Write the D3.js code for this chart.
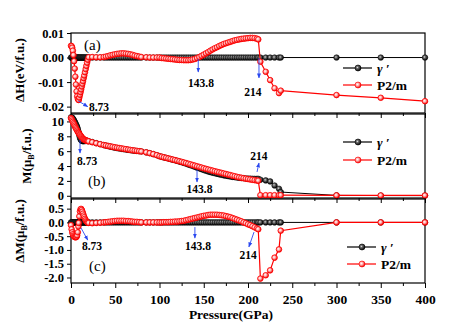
<!DOCTYPE html>
<html><head><meta charset="utf-8">
<script src="https://cdn.jsdelivr.net/npm/d3@7"></script>
<style>body{margin:0;background:#fff}svg{display:block}</style>
</head><body><svg id="c" width="472" height="334"></svg>
<script>
// ---------------- DATA ----------------
const pressure = [
  0, 0.7, 1.4, 2.1, 2.8, 3.5, 4.2, 4.9, 5.6, 6.3, 7, 7.7, 8.4, 8.73, 9.4, 10.1, 10.8, 11.5, 12.2, 12.9, 13.6, 14.3, 15, 15.8, 16.6, 17.4, 18.2, 19, 20,
  24, 28.5, 33,
  37, 39.5, 42, 44.5, 47, 49.5, 52, 54.5, 57, 59.5, 62, 64.5, 67, 69.5, 72, 74.5, 77, 79.5,
  85, 89, 93, 97,
  100, 102.5, 105, 107.5, 110, 112.5, 115, 117.5, 120, 122.5, 125, 127.5, 130, 132.5, 135, 137.5, 140, 142.5, 145, 147.5, 150, 152.5, 155, 157.5, 160, 162.5, 165, 167.5, 170, 172.5, 175, 177.5, 180, 182.5, 185, 187.5, 190, 192.5, 195, 197.5, 200, 202.5, 205, 207.5, 210, 211.6,
  214, 220, 225, 230, 235, 237, 300, 350, 400
];
// Panel (a): enthalpy difference (eV/f.u.)
const dH_P2m = [
  0.0048, 0.0046, 0.0040, 0.0028, 0.0010, -0.0015, -0.0045, -0.0078, -0.0110, -0.0138, -0.0158, -0.0168, -0.0172, -0.0173, -0.0163, -0.0152, -0.0141, -0.0130, -0.0118, -0.0107, -0.0096, -0.0084, -0.0073, -0.0060, -0.0047, -0.0034, -0.0021, -0.0009, 0.0001,
  0.0002, 0.0001, 0.0001,
  0.0002, 0.0004, 0.0006, 0.0009, 0.0011, 0.0013, 0.0015, 0.0016, 0.0017, 0.0017, 0.0016, 0.0015, 0.0013, 0.0011, 0.0008, 0.0006, 0.0004, 0.0002,
  0.0001, 0.0000, 0.0000, 0.0000,
  0.0000, -0.0002, -0.0003, -0.0004, -0.0005, -0.0006, -0.0007, -0.0008, -0.0009, -0.0010, -0.0010, -0.0011, -0.0011, -0.0011, -0.0010, -0.0008, -0.0006, -0.0002, 0.0002, 0.0007, 0.0012, 0.0017, 0.0022, 0.0028, 0.0033, 0.0038, 0.0042, 0.0047, 0.0051, 0.0055, 0.0058, 0.0061, 0.0064, 0.0067, 0.0070, 0.0072, 0.0074, 0.0076, 0.0077, 0.0078, 0.0079, 0.0080, 0.0080, 0.0079, 0.0077, 0.0074,
  -0.0017, -0.0058, -0.0092, -0.0125, -0.0145, -0.0135, -0.0153, -0.0164, -0.0178
];
const dH_gamma = [
  0,0,0,0,0,0,0,0,0,0,0,0,0,0,0,0,0,0,0,0,0,0,0,0,0,0,0,0,0,
  0,0,0,
  0,0,0,0,0,0,0,0,0,0,0,0,0,0,0,0,0,0,
  0,0,0,0,
  0,0,0,0,0,0,0,0,0,0,0,0,0,0,0,0,0,0,0,0,0,0,0,0,0,0,0,0,0,0,0,0,0,0,0,0,0,0,0,0,0,0,0,0,0,0,
  0,0,0,0,0,0,0,0,0
];
// Panel (b): magnetic moment (muB/f.u.)
const M_P2m = [
  10.45, 10.30, 10.12, 9.95, 9.77, 9.60, 9.42, 9.25, 9.08, 8.92, 8.77, 8.62, 8.50, 8.44, 8.32, 8.20, 8.08, 7.96, 7.85, 7.75, 7.66, 7.60, 7.55, 7.50, 7.46, 7.42, 7.39, 7.36, 7.32,
  7.20, 7.06, 6.93,
  6.82, 6.76, 6.70, 6.64, 6.58, 6.52, 6.47, 6.42, 6.37, 6.32, 6.27, 6.22, 6.17, 6.12, 6.08, 6.04, 6.00, 5.96,
  5.84, 5.73, 5.60, 5.46,
  5.32, 5.25, 5.17, 5.10, 5.02, 4.95, 4.87, 4.80, 4.72, 4.64, 4.56, 4.48, 4.40, 4.31, 4.22, 4.14, 4.05, 3.96, 3.88, 3.79, 3.70, 3.62, 3.54, 3.46, 3.38, 3.30, 3.23, 3.15, 3.08, 3.00, 2.93, 2.85, 2.78, 2.70, 2.63, 2.55, 2.48, 2.42, 2.36, 2.30, 2.25, 2.20, 2.15, 2.10, 2.06, 2.03,
  0.08, 0.08, 0.08, 0.08, 0.08, 0.08, 0.05, 0.04, 0.04
];
const M_gamma = [
  10.55, 10.55, 10.48, 10.38, 10.25, 10.11, 9.95, 9.79, 9.62, 9.44, 9.24, 8.98, 8.65, 8.46, 8.10, 7.80, 7.60, 7.47, 7.40, 7.36, 7.34, 7.35, 7.36, 7.37, 7.38, 7.38, 7.38, 7.37, 7.34,
  7.23, 7.08, 6.94,
  6.82, 6.75, 6.68, 6.61, 6.54, 6.47, 6.41, 6.36, 6.31, 6.26, 6.22, 6.17, 6.13, 6.09, 6.06, 6.02, 5.99, 5.96,
  5.84, 5.73, 5.60, 5.46,
  5.32, 5.25, 5.16, 5.09, 5.01, 4.93, 4.85, 4.77, 4.69, 4.60, 4.51, 4.42, 4.32, 4.21, 4.10, 4.00, 3.89, 3.78, 3.68, 3.57, 3.46, 3.37, 3.27, 3.18, 3.10, 3.02, 2.95, 2.88, 2.82, 2.75, 2.70, 2.64, 2.59, 2.54, 2.50, 2.45, 2.41, 2.38, 2.36, 2.33, 2.32, 2.30, 2.29, 2.28, 2.28, 2.28,
  2.16, 2.07, 1.93, 1.39, 0.95, 0.50, 0.05, 0.03, 0.02
];
// Panel (c): magnetic moment difference (muB/f.u.)
const dM_P2m = [
  -0.10, -0.25, -0.36, -0.43, -0.48, -0.51, -0.53, -0.54, -0.54, -0.52, -0.47, -0.36, -0.15, -0.02, 0.22, 0.40, 0.48, 0.49, 0.45, 0.39, 0.32, 0.25, 0.19, 0.13, 0.08, 0.04, 0.01, -0.01, -0.02,
  -0.03, -0.02, -0.01,
  0.00, 0.01, 0.02, 0.03, 0.04, 0.05, 0.06, 0.06, 0.06, 0.06, 0.05, 0.05, 0.04, 0.03, 0.02, 0.02, 0.01, 0.00,
  0.00, 0.00, 0.00, 0.00,
  0.00, 0.00, 0.01, 0.01, 0.01, 0.02, 0.02, 0.03, 0.03, 0.04, 0.05, 0.06, 0.08, 0.10, 0.12, 0.14, 0.16, 0.18, 0.20, 0.22, 0.24, 0.25, 0.27, 0.28, 0.28, 0.28, 0.28, 0.27, 0.26, 0.25, 0.23, 0.21, 0.19, 0.16, 0.13, 0.10, 0.07, 0.04, 0.00, -0.03, -0.07, -0.10, -0.14, -0.18, -0.22, -0.25,
  -2.04, -1.92, -1.74, -1.28, -0.98, -0.30, 0.00, 0.00, 0.00
];
const dM_gamma = [
  0,0,0,0,0,0,0,0,0,0,0,0,0,0,0,0,0,0,0,0,0,0,0,0,0,0,0,0,0,
  0,0,0,
  0,0,0,0,0,0,0,0,0,0,0,0,0,0,0,0,0,0,
  0,0,0,0,
  0,0,0,0,0,0,0,0,0,0,0,0,0,0,0,0,0,0,0,0,0,0,0,0,0,0,0,0,0,0,0,0,0,0,0,0,0,0,0,0,0,0,0,0,0,0,
  0,0,0,0,0,0,0,0,0
];
const seriesNames = ["γ", "P2/m"];
const xTicks = [0, 50, 100, 150, 200, 250, 300, 350, 400];
const xMinorTicks = [25, 75, 125, 175, 225, 275, 325, 375];
const yTicksA = [0.01, 0.00, -0.01, -0.02];
const yTicksB = [0, 2, 4, 6, 8, 10];
const yTicksC = [0.5, 0.0, -0.5, -1.0, -1.5, -2.0];
const annotA = [
  {t:"8.73", x0:8.2, y0:-0.0177, x1:18.9, y1:-0.0200, tx:20.3, ty:-0.0216, a:"start"},
  {t:"143.8", x0:143.8, y0:-0.0006, x1:143.8, y1:-0.0059, tx:146.9, ty:-0.0120, a:"middle"},
  {t:"214", x0:212.4, y0:-0.0002, x1:212.4, y1:-0.0083, tx:205.6, ty:-0.0157, a:"middle"}
];
const annotB = [
  {t:"8.73", x0:10.2, y0:7.5, x1:10.2, y1:5.75, tx:6.8, ty:4.14, a:"start"},
  {t:"143.8", x0:142.4, y0:3.47, x1:142.4, y1:1.85, tx:145.2, ty:0.37, a:"middle"},
  {t:"214", x0:210.2, y0:3.2, x1:212.4, y1:4.41, tx:212.4, ty:4.81, a:"middle"}
];
const annotC = [
  {t:"8.73", x0:11.3, y0:-0.2, x1:18.9, y1:-0.64, tx:12.4, ty:-1.0, a:"start"},
  {t:"143.8", x0:140, y0:-0.17, x1:140, y1:-0.57, tx:143.5, ty:-1.0, a:"middle"},
  {t:"214", x0:206.8, y0:-0.35, x1:201, y1:-0.89, tx:200, ty:-1.33, a:"middle"}
];

// ---------------- DRAW ----------------
const FONT = "'Liberation Serif','Times New Roman',serif";
const RED = "#ff0000", BLUE = "#2a48f0";
const svg = d3.select("#c");
svg.append("rect").attr("width",472).attr("height",334).attr("fill","#fff");
const defs = svg.append("defs");
function grad(id, stops){
  const g = defs.append("radialGradient").attr("id",id).attr("cx","0.4").attr("cy","0.4").attr("r","0.6");
  stops.forEach(s=>g.append("stop").attr("offset",s[0]).attr("stop-color",s[1]));
}
grad("gRed", [[0,"#ffffff"],[0.4,"#ffb4b4"],[1,"#ee0000"]]);
grad("gBlk", [[0,"#e8e8e8"],[0.3,"#707070"],[1,"#000000"]]);
const mk = defs.append("marker").attr("id","arr").attr("viewBox","0 0 10 10").attr("refX",9).attr("refY",5)
  .attr("markerWidth",5).attr("markerHeight",5).attr("orient","auto-start-reverse").attr("markerUnits","userSpaceOnUse");
mk.append("path").attr("d","M0,1 L10,5 L0,9 Z").attr("fill",BLUE);

const x = d3.scaleLinear().domain([0,400]).range([71,425]);

const panels = [
  {top:33, bottom:113, domain:[-0.0226,0.01], ticks:yTicksA, fmt:v=>v.toFixed(2), red:dH_P2m, black:dH_gamma,
   title:[["ΔH(eV/f.u.)",null]], tx:24, ty:70, label:"(a)", lx:84, ly:50, legX:343, legY:[68,85], ann:annotA, showX:false},
  {top:114, bottom:198, domain:[-0.3,11], ticks:yTicksB, fmt:v=>String(v), red:M_P2m, black:M_gamma,
   title:[["M(μ",null],["B","sub"],["/f.u.)",null]], tx:31, ty:156, label:"(b)", lx:88, ly:186, legX:343, legY:[142,160], ann:annotB, showX:false},
  {top:199, bottom:283, domain:[-2.2,0.85], ticks:yTicksC, fmt:v=>v.toFixed(1), red:dM_P2m, black:dM_gamma,
   title:[["ΔM(μ",null],["B","sub"],["/f.u.)",null]], tx:24, ty:231, label:"(c)", lx:89, ly:271, legX:347, legY:[247,264], ann:annotC, showX:true}
];

panels.forEach(p=>{
  const y = d3.scaleLinear().domain(p.domain).range([p.bottom,p.top]);
  const g = svg.append("g");
  // x ticks
  const xa = g.append("g").attr("transform",`translate(0,${p.bottom})`)
    .call(d3.axisBottom(x).tickValues(xTicks).tickSize(5).tickSizeOuter(0).tickPadding(6)
      .tickFormat(p.showX ? d3.format("d") : ""));
  xa.select(".domain").remove();
  const xm = g.append("g").attr("transform",`translate(0,${p.bottom})`)
    .call(d3.axisBottom(x).tickValues(xMinorTicks).tickSize(3).tickFormat(""));
  xm.select(".domain").remove();
  // y ticks
  const ya = g.append("g").attr("transform","translate(71,0)")
    .call(d3.axisLeft(y).tickValues(p.ticks).tickSize(4).tickPadding(3).tickFormat(p.fmt));
  ya.select(".domain").remove();
  g.selectAll(".tick line").attr("stroke","#000").attr("stroke-width",1);
  g.selectAll(".tick text").attr("font-family",FONT).attr("font-weight","bold").attr("font-size","12.5px").attr("fill","#000");
  xa.selectAll(".tick text").attr("font-size","13.5px");
  // frame
  g.append("rect").attr("x",71).attr("y",p.top).attr("width",354).attr("height",p.bottom-p.top)
    .attr("fill","none").attr("stroke","#000").attr("stroke-width",1.2);

  const line = d3.line().x((d,i)=>x(pressure[i])).y(d=>y(d));
  // gamma'
  g.append("path").attr("d",line(p.black)).attr("fill","none").attr("stroke","#000").attr("stroke-width",1);
  g.append("g").selectAll("circle").data(p.black).join("circle")
    .attr("cx",(d,i)=>x(pressure[i])).attr("cy",d=>y(d)).attr("r",2.8)
    .attr("fill","url(#gBlk)").attr("stroke","#000").attr("stroke-width",0.5);
  // P2/m
  g.append("path").attr("d",line(p.red)).attr("fill","none").attr("stroke",RED).attr("stroke-width",1.2);
  g.append("g").selectAll("circle").data(p.red).join("circle")
    .attr("cx",(d,i)=>x(pressure[i])).attr("cy",d=>y(d)).attr("r",2.8)
    .attr("fill","url(#gRed)").attr("stroke",RED).attr("stroke-width",0.8);

  // annotations
  p.ann.forEach(a=>{
    g.append("line").attr("x1",x(a.x0)).attr("y1",y(a.y0)).attr("x2",x(a.x1)).attr("y2",y(a.y1))
      .attr("stroke",BLUE).attr("stroke-width",0.9).attr("marker-end","url(#arr)");
    g.append("text").attr("x",x(a.tx)).attr("y",y(a.ty)).attr("text-anchor",a.a)
      .attr("font-family",FONT).attr("font-weight","bold").attr("font-size","11.5px").text(a.t);
  });

  // panel label
  g.append("text").attr("x",p.lx).attr("y",p.ly).attr("font-family",FONT).attr("font-size","15px").text(p.label);

  // y title
  const t = g.append("text").attr("transform",`translate(${p.tx},${p.ty}) rotate(-90)`).attr("text-anchor","middle")
    .attr("font-family",FONT).attr("font-weight","bold").attr("font-size","13px");
  p.title.forEach(([s,k])=>{
    const ts = t.append("tspan").text(s);
    if(k==="sub"){ ts.attr("font-size","8px").attr("dy","3"); }
    else if(t.selectAll("tspan").size()>1){ ts.attr("dy","-3"); }
  });

  // legend
  [["#000","url(#gBlk)"],[RED,"url(#gRed)"]].forEach(([c,f],k)=>{
    const ly = p.legY[k];
    g.append("line").attr("x1",p.legX).attr("x2",p.legX+29).attr("y1",ly).attr("y2",ly).attr("stroke",c).attr("stroke-width",1.2);
    g.append("circle").attr("cx",p.legX+15).attr("cy",ly).attr("r",3).attr("fill",f).attr("stroke",c).attr("stroke-width",0.6);
    const tx = g.append("text").attr("x",p.legX+34).attr("y",ly+4.5).attr("font-family",FONT).attr("font-weight","bold").attr("font-size","13.5px");
    if(k===0){ tx.append("tspan").attr("font-style","italic").text(seriesNames[0]); tx.append("tspan").text(" \u2032"); }
    else tx.text(seriesNames[1]);
  });
});

svg.append("text").attr("x",231).attr("y",319).attr("text-anchor","middle")
  .attr("font-family",FONT).attr("font-weight","bold").attr("font-size","13.5px").text("Pressure(GPa)");
</script>
</body></html>
